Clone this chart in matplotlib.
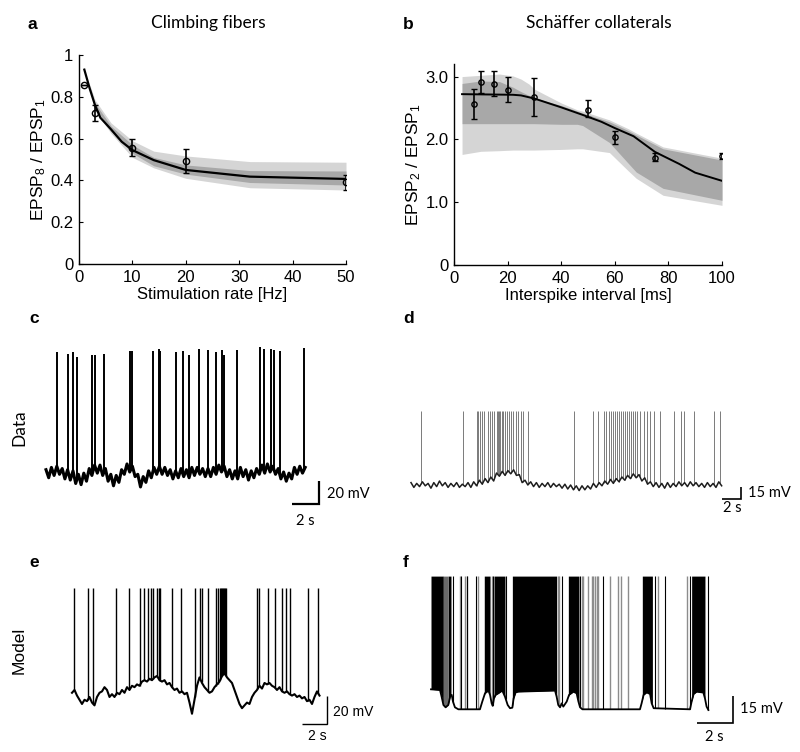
import numpy as np
import matplotlib
matplotlib.use("Agg")
import matplotlib.pyplot as plt

plt.rcParams['font.family'] = ['Liberation Sans', 'DejaVu Sans']
plt.rcParams['mathtext.fontset'] = 'custom'
plt.rcParams['mathtext.rm'] = 'Liberation Sans'
plt.rcParams['mathtext.it'] = 'Liberation Sans:italic'
plt.rcParams['mathtext.default'] = 'regular'

# ---------------- Panel a: climbing fibers ----------------
a_line_rate = [1, 2, 3, 4, 6, 8, 10, 14, 20, 32, 50]
a_line_ratio = [0.93, 0.84, 0.76, 0.70, 0.644, 0.585, 0.545, 0.497, 0.45, 0.418, 0.407]
a_band_rate = [2, 3, 6, 10, 14, 20, 32, 50]
a_light_hi = [0.86, 0.785, 0.675, 0.59, 0.54, 0.517, 0.49, 0.487]
a_light_lo = [0.83, 0.735, 0.625, 0.51, 0.46, 0.41, 0.365, 0.354]
a_dark_hi = [0.85, 0.77, 0.66, 0.57, 0.51, 0.474, 0.447, 0.445]
a_dark_lo = [0.835, 0.75, 0.635, 0.53, 0.47, 0.43, 0.39, 0.378]
a_pts_rate = [1, 3, 10, 20, 50]
a_pts_ratio = [0.855, 0.724, 0.557, 0.493, 0.394]
a_err_lo = [0.855, 0.686, 0.517, 0.434, 0.354]
a_err_hi = [0.855, 0.760, 0.600, 0.549, 0.426]

# ---------------- Panel b: Schaffer collaterals ----------------
b_line_isi = [3, 22, 25, 30, 40, 48, 55, 60, 67, 75, 84, 90, 100]
b_line_ratio = [2.72, 2.71, 2.70, 2.65, 2.51, 2.39, 2.28, 2.18, 2.05, 1.80, 1.61, 1.47, 1.34]
b_band_isi = [3, 10, 17, 22, 25, 28, 30, 40, 46, 48, 58, 65, 68, 78, 100]
b_light_hi = [3.00, 3.02, 3.04, 3.01, 2.96, 2.88, 2.80, 2.58, 2.47, 2.45, 2.31, 2.17, 2.10, 1.88, 1.70]
b_dark_hi = [2.89, 2.93, 2.92, 2.83, 2.76, 2.70, 2.66, 2.54, 2.45, 2.42, 2.28, 2.14, 2.07, 1.85, 1.67]
b_dark_lo = [2.25, 2.25, 2.25, 2.25, 2.25, 2.25, 2.25, 2.24, 2.24, 2.22, 1.95, 1.62, 1.48, 1.22, 1.03]
b_light_lo = [1.76, 1.81, 1.82, 1.83, 1.83, 1.83, 1.83, 1.84, 1.85, 1.85, 1.79, 1.50, 1.38, 1.11, 0.95]
b_pts_isi = [7.5, 10, 15, 20, 30, 50, 60, 75, 100]
b_pts_ratio = [2.56, 2.91, 2.88, 2.79, 2.68, 2.47, 2.03, 1.70, 1.73]
b_err_lo = [2.32, 2.74, 2.69, 2.60, 2.38, 2.35, 1.92, 1.65, 1.69]
b_err_hi = [2.80, 3.09, 3.09, 3.00, 2.98, 2.62, 2.14, 1.78, 1.79]

# ---------------- Panel c: data, climbing-fiber target ----------------
c_dt = 0.2  # s
c_baseline = [-58, -65, -56, -63, -55, -62, -57, -66, -58, -67,
              -59, -70, -62, -71, -61, -68, -57, -63, -54, -61,
              -54, -63, -57, -68, -62, -72, -63, -69, -58, -62,
              -53, -60, -55, -64, -62, -73, -64, -69, -59, -65,
              -56, -62, -55, -62, -56, -63, -58, -66, -59, -65,
              -57, -64, -58, -65, -56, -63, -56, -62, -57, -64,
              -57, -64, -56, -62, -54, -60, -55, -64, -58, -66,
              -59, -66, -56, -64, -58, -67, -59, -65, -57, -62,
              -54, -61, -53, -60, -55, -62, -57, -66, -60, -68,
              -61, -66, -56, -62, -55, -61, -56]
c_spike_t = [0.84, 1.65, 2.02, 2.30, 3.39, 3.65, 4.32, 6.25, 6.35, 7.95,
             8.37, 8.47, 9.63, 10.17, 10.59, 11.31, 12.00, 12.57, 13.04, 13.21,
             14.13, 15.87, 16.17, 16.64, 16.89, 17.36, 19.13]
c_spike_peak = [44, 43, 44, 40, 42, 42, 43, 45, 45, 45, 47, 45, 44, 45, 42,
                47, 46, 44, 46, 42, 46, 49, 47, 47, 46, 45, 48]

# ---------------- Panel d: data, CA1 ----------------
d_dt = 0.3  # s
d_baseline = [-57, -63, -58, -62, -56, -61, -58, -64, -57, -62,
              -55, -61, -57, -63, -58, -62, -57, -63, -59, -62,
              -57, -63, -56, -61, -54, -59, -52, -57, -50, -55,
              -45, -49, -43, -48, -42, -46, -41, -48, -47, -57,
              -54, -60, -56, -62, -57, -63, -58, -62, -57, -63,
              -58, -62, -59, -64, -59, -65, -60, -66, -61, -67,
              -61, -66, -61, -65, -58, -63, -57, -61, -55, -59,
              -53, -58, -52, -56, -50, -54, -48, -52, -46, -51,
              -47, -55, -51, -59, -56, -62, -57, -63, -58, -64,
              -57, -63, -58, -62, -56, -61, -57, -62, -56, -61,
              -57, -62, -58, -63, -57, -62, -58, -63, -56, -61]
d_spike_t = [1.05, 5.47, 6.91, 7.09, 7.30, 7.51, 7.72, 8.14, 8.35, 8.56,
             8.77, 9.02, 9.12, 9.26, 9.40, 9.54, 9.72, 9.89, 10.11, 10.32,
             10.53, 10.77, 11.02, 11.30, 11.58, 11.82, 12.35, 17.19, 19.19, 19.72,
             20.28, 20.56, 20.84, 21.05, 21.26, 21.47, 21.68, 21.89, 22.11, 22.32,
             22.53, 22.74, 22.95, 23.16, 23.37, 23.58, 23.82, 24.07, 24.49, 24.84,
             25.12, 25.61, 26.25, 27.72, 28.42, 28.77, 29.75, 31.93, 32.49]
d_spike_peak = 32

# ---------------- Panel e: model, climbing-fiber target ----------------
e_dt = 0.2  # s
e_baseline = [-57, -55, -59, -62, -65, -62, -63, -60, -64, -66,
              -60, -57, -56, -53, -55, -60, -58, -60, -57, -58,
              -55, -57, -53, -55, -52, -53, -51, -52, -49, -48,
              -49, -47, -48, -46, -45, -48, -49, -48, -51, -50,
              -53, -55, -54, -57, -56, -58, -57, -64, -72, -62,
              -52, -46, -50, -53, -55, -57, -56, -53, -51, -49,
              -45, -43, -46, -48, -50, -55, -60, -65, -68, -66,
              -64, -65, -60, -57, -55, -52, -54, -50, -51, -50,
              -52, -53, -55, -53, -56, -57, -56, -58, -59, -58,
              -60, -59, -61, -60, -63, -62, -65, -60, -56, -59]
e_spike_t = [0.16, 1.25, 1.71, 3.49, 4.53, 5.41, 5.76, 6.11, 6.35, 6.48,
             6.83, 6.96, 7.07, 8.00, 8.72, 9.84, 10.24, 10.37, 10.91, 11.49,
             11.65, 11.87, 11.95, 12.03, 12.11, 12.19, 12.27, 12.35, 14.83, 14.99,
             15.71, 16.24, 16.77, 17.09, 17.44, 18.85, 19.71]
e_spike_peak = 18

# ---------------- Panel f: model, CA1 ----------------
f_base_t = [0.0, 0.5, 0.59, 0.69, 0.81, 0.96, 1.07, 1.15, 1.22, 1.33,
            1.52, 2.72, 2.85, 3.0, 3.19, 3.28, 3.37, 3.43, 3.5, 3.59,
            3.74, 3.96, 4.11, 4.26, 4.39, 4.52, 4.59, 4.7, 4.85, 6.89,
            6.98, 7.07, 7.17, 7.26, 7.35, 7.54, 7.67, 7.91, 8.09, 8.19,
            8.28, 8.41, 11.61, 11.7, 11.81, 11.98, 12.17, 12.26, 12.37, 14.39,
            14.48, 14.59, 14.76, 15.13, 15.22, 15.31, 15.41]
f_base_v = [-58.9, -59.3, -63.0, -67.6, -68.9, -67.6, -62.6, -62.0, -65.7, -68.9,
            -70.0, -70.0, -65.7, -61.1, -59.6, -62.0, -66.7, -68.1, -63.9, -62.0,
            -61.1, -59.6, -63.0, -67.6, -69.4, -69.1, -63.9, -60.6, -60.2, -59.6,
            -63.0, -67.6, -68.9, -66.7, -68.5, -65.7, -62.0, -60.2, -61.1, -65.7,
            -68.9, -70.0, -70.0, -66.7, -62.0, -60.6, -61.5, -66.7, -69.4, -70.0,
            -65.7, -61.5, -60.2, -60.7, -63.9, -68.5, -70.4]
f_burst_start = [0.0, 0.963, 2.96, 3.50, 4.52, 7.63, 11.74, 14.48]
f_burst_end = [0.685, 1.11, 3.28, 4.11, 6.98, 8.22, 12.30, 15.22]
f_dense_start = [0.685]
f_dense_end = [0.963]
f_spike_black = [1.24, 1.67, 1.98, 2.50, 3.44, 4.15, 7.26, 8.28, 9.57, 12.44, 13.0, 14.39, 15.41]
f_spike_gray = [1.61, 1.89, 2.02, 2.63, 3.37, 7.04, 7.11, 8.37, 8.46, 8.74, 8.93,
                9.02, 9.11, 9.20, 9.30, 9.94, 10.41, 10.56, 10.96, 12.63, 14.20]
f_spike_peak = 4

# ====================================================================
W, H = 800, 752
fig = plt.figure(figsize=(W / 100, H / 100), dpi=100)

LIGHT = '#d5d5d5'
DARK = '#a8a8a8'
GILL = ['Lato', 'DejaVu Sans']


def ftext(x, y, s, **kw):
    fig.text(x / W, 1 - y / H, s, **kw)


def style_axes(ax):
    for sp in ('top', 'right'):
        ax.spines[sp].set_visible(False)
    for sp in ('left', 'bottom'):
        ax.spines[sp].set_linewidth(1.0)
    ax.tick_params(direction='in', length=3, width=0.8, labelsize=12, pad=4)


# Panel a
axa = fig.add_axes([79 / W, 1 - 264 / H, 267 / W, 209 / H])
axa.fill_between(a_band_rate, a_light_lo, a_light_hi, color=LIGHT, lw=0)
axa.fill_between(a_band_rate, a_dark_lo, a_dark_hi, color=DARK, lw=0)
axa.plot(a_line_rate, a_line_ratio, color='black', lw=1.6)
ya = np.array(a_pts_ratio)
axa.errorbar(a_pts_rate, ya, yerr=[ya - np.array(a_err_lo), np.array(a_err_hi) - ya],
             fmt='o', ms=4.5, mfc='none', mec='black', mew=1.0, ecolor='black',
             elinewidth=1.2, capsize=2.5, capthick=1.0)
axa.set_xlim(0, 50)
axa.set_ylim(0, 1)
axa.set_xticks([0, 10, 20, 30, 40, 50])
axa.set_yticks([0, 0.2, 0.4, 0.6, 0.8, 1.0])
axa.set_yticklabels(['0', '0.2', '0.4', '0.6', '0.8', '1'])
style_axes(axa)
axa.set_xlabel('Stimulation rate [Hz]', fontsize=12, labelpad=1.5)
axa.set_ylabel('EPSP$_8$ / EPSP$_1$', fontsize=12.5, labelpad=2)

# Panel b
axb = fig.add_axes([454 / W, 1 - 265 / H, 268 / W, 201 / H])
axb.fill_between(b_band_isi, b_light_lo, b_light_hi, color=LIGHT, lw=0)
axb.fill_between(b_band_isi, b_dark_lo, b_dark_hi, color=DARK, lw=0)
axb.plot(b_line_isi, b_line_ratio, color='black', lw=1.4)
yb = np.array(b_pts_ratio)
axb.errorbar(b_pts_isi, yb, yerr=[yb - np.array(b_err_lo), np.array(b_err_hi) - yb],
             fmt='o', ms=3.8, mfc='none', mec='black', mew=1.0, ecolor='black',
             elinewidth=1.2, capsize=2.5, capthick=1.0)
axb.set_xlim(0, 100)
axb.set_ylim(0, 3.2)
axb.set_xticks([0, 20, 40, 60, 80, 100])
axb.set_yticks([0, 1, 2, 3])
axb.set_yticklabels(['0', '1.0', '2.0', '3.0'])
style_axes(axb)
axb.set_xlabel('Interspike interval [ms]', fontsize=12, labelpad=1.5)
axb.set_ylabel('EPSP$_2$ / EPSP$_1$', fontsize=12.5, labelpad=2)

# Titles and panel letters
ftext(208, 23, 'Climbing fibers', fontsize=12.5, family=GILL, ha='center', va='center')
ftext(599, 23, 'Schäffer collaterals', fontsize=12.5, family=GILL, ha='center', va='center')
for (lx, ly, s) in [(27, 29, 'a'), (403, 29, 'b'), (29, 323, 'c'), (403, 323, 'd'),
                    (29, 567, 'e'), (403, 567, 'f')]:
    ftext(lx, ly, s, fontsize=12.5, fontweight='bold', ha='left', va='baseline')


def trace_axes(x0, x1, y0, y1, t0px, pps, vref_px, vref, ppmv):
    ax = fig.add_axes([x0 / W, 1 - y1 / H, (x1 - x0) / W, (y1 - y0) / H])
    ax.set_xlim((x0 - t0px) / pps, (x1 - t0px) / pps)
    ax.set_ylim(vref - (y1 - vref_px) / ppmv, vref + (vref_px - y0) / ppmv)
    ax.axis('off')
    conv = lambda px, py: ((px - t0px) / pps, vref - (py - vref_px) / ppmv)
    return ax, conv


def scalebar(ax, conv, cx, cy, t_len, v_len, lw):
    tc, vc = conv(cx, cy)
    ax.plot([tc - t_len, tc, tc], [vc, vc, vc + v_len], color='black', lw=lw,
            solid_joinstyle='miter', solid_capstyle='butt', clip_on=False)


# Panel c
axc, convc = trace_axes(40, 345, 335, 530, 46, 13.5, 472, -60, 1.15)
tc_b = np.arange(len(c_baseline)) * c_dt
axc.vlines(c_spike_t, np.interp(c_spike_t, tc_b, c_baseline), c_spike_peak,
           color='black', lw=1.4)
axc.plot(tc_b, c_baseline, color='black', lw=2.2)
scalebar(axc, convc, 319, 504, 2, 20, 1.6)
ftext(327, 494, '20 mV', fontsize=10.5, family=GILL, va='center')
ftext(305, 521, '2 s', fontsize=10.5, family=GILL, ha='center', va='center')
ftext(19, 428, 'Data', fontsize=12.5, family=GILL, rotation=90, ha='center', va='center')

# Panel d
axd, convd = trace_axes(405, 800, 400, 520, 411, 9.5, 485, -60, 0.8)
td_b = np.arange(len(d_baseline)) * d_dt
axd.vlines(d_spike_t, np.interp(d_spike_t, td_b, d_baseline), d_spike_peak,
           color='#7a7a7a', lw=0.7)
axd.plot(td_b, d_baseline, color='#1e1e1e', lw=1.1)
scalebar(axd, convd, 741, 499, 2, 15, 1.2)
ftext(748, 493, '15 mV', fontsize=10.5, family=GILL, va='center')
ftext(732, 508, '2 s', fontsize=10.5, family=GILL, ha='center', va='center')

# Panel e
axe, conve = trace_axes(65, 380, 580, 750, 72, 12.5, 696.7, -59.8, 1.4)
te_b = np.arange(len(e_baseline)) * e_dt
axe.vlines(e_spike_t, np.interp(e_spike_t, te_b, e_baseline), e_spike_peak,
           color='black', lw=1.0)
axe.plot(te_b, e_baseline, color='black', lw=1.5)
scalebar(axe, conve, 327, 724, 2, 20, 1.0)
ftext(333, 712, '20 mV', fontsize=10, va='center')
ftext(317, 736, '2 s', fontsize=10, ha='center', va='center')
ftext(19, 650, 'Model', fontsize=12.5, rotation=90, ha='center', va='center')

# Panel f
axf, convf = trace_axes(425, 790, 570, 752, 431, 18, 709.3, -70, 1.8)
for s0, s1 in zip(f_burst_start, f_burst_end):
    tt = np.linspace(s0, s1, 40)
    axf.fill_between(tt, np.interp(tt, f_base_t, f_base_v), f_spike_peak,
                     color='black', lw=0)
for s0, s1 in zip(f_dense_start, f_dense_end):
    tt = np.linspace(s0, s1, 20)
    axf.fill_between(tt, np.interp(tt, f_base_t, f_base_v), f_spike_peak,
                     color='#6a6a6a', lw=0)
axf.vlines(f_spike_gray, np.interp(f_spike_gray, f_base_t, f_base_v), f_spike_peak,
           color='#8c8c8c', lw=1.0)
axf.vlines(f_spike_black, np.interp(f_spike_black, f_base_t, f_base_v), f_spike_peak,
           color='black', lw=0.8)
axf.plot(f_base_t, f_base_v, color='black', lw=1.3)
scalebar(axf, convf, 733, 723, 2, 15, 1.2)
ftext(740, 709, '15 mV', fontsize=10.5, family=GILL, va='center')
ftext(714, 737, '2 s', fontsize=10.5, family=GILL, ha='center', va='center')

fig.savefig('out.png', dpi=100)
